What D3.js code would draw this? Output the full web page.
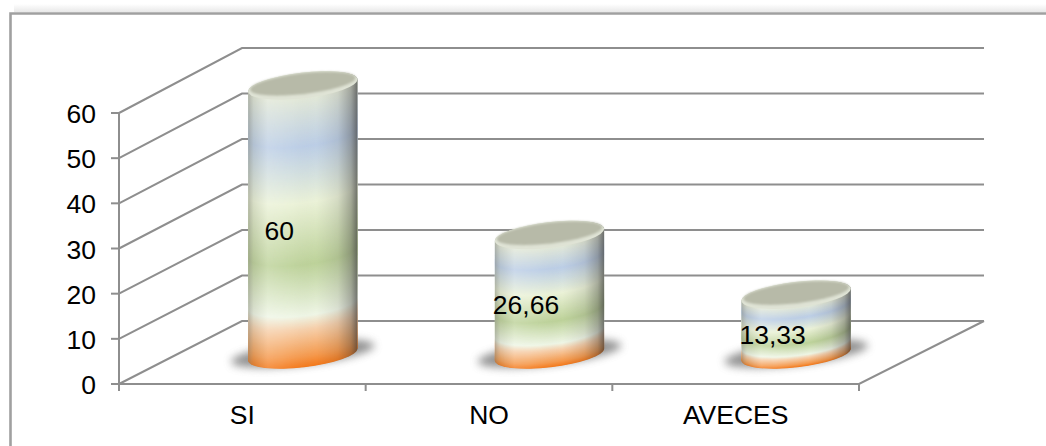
<!DOCTYPE html>
<html>
<head>
<meta charset="utf-8">
<script src="https://cdn.jsdelivr.net/npm/d3@7/dist/d3.min.js"></script>
<style>
html,body{margin:0;padding:0;background:#fff;}
svg{display:block;}
text{font-family:"Liberation Sans",Arial,sans-serif;fill:#000;}
</style>
</head>
<body>
<svg id="chart" width="1046" height="446"></svg>
<script>
// Chart values
const categories = ["SI", "NO", "AVECES"];
const values = [60, 26.66, 13.33];
const valueLabels = ["60", "26,66", "13,33"];
const yTicks = [0, 10, 20, 30, 40, 50, 60];
// Colour bands running up each cylinder, bottom (0) to top (1)
const bandOffsets = [0, 0.04, 0.14, 0.19, 0.38, 0.61, 0.82, 1];
const bandColors = ["#f47a1c", "#f59a4e", "#f6d0ac", "#eff6e6", "#bdd29a", "#ebf2d8", "#bccee6", "#e2e8d8"];

const W = 1046, H = 446;
const svg = d3.select("#chart");
const defs = svg.append("defs");

// Plot box: front wall, back wall and depth offset of the 3D frame
const frontX = d3.scaleBand().domain(categories).range([119, 859]);
const frontY = d3.scaleLinear().domain([0, 60]).range([384, 113]);
const backY = d3.scaleLinear().domain([0, 60]).range([321, 48]);
const depthX = 123, backRight = 984;
const barY = d3.scaleLinear().domain([0, 60]).range([354.5, 85.5]);
const bandColor = d3.scaleLinear().domain(bandOffsets).range(bandColors).interpolate(d3.interpolateRgb);
const GRID = "#8e8e8e";
const FONT = 26.5;

// Outer frame with soft shadow along its top edge
const topGlow = defs.append("linearGradient").attr("id", "topGlow").attr("x1", 0).attr("x2", 0).attr("y1", 0).attr("y2", 1);
topGlow.append("stop").attr("offset", 0).attr("stop-color", "#fff");
topGlow.append("stop").attr("offset", 1).attr("stop-color", "#e8e8e8");
svg.append("rect").attr("x", 14).attr("y", 4).attr("width", W - 14).attr("height", 8).attr("fill", "url(#topGlow)");
svg.append("path").attr("d", `M10.5,${H}V13.5H${W}`).attr("fill", "none").attr("stroke", "#a0a0a0").attr("stroke-width", 2.6);

// Back wall gridlines and side wall lines
const grid = svg.append("g").attr("fill", "none").attr("stroke", GRID).attr("stroke-width", 2);
grid.selectAll("path.wall").data(yTicks).join("path").attr("class", "wall")
  .attr("d", d => d3.line()([[frontX.range()[0], frontY(d)], [frontX.range()[0] + depthX, backY(d)], [backRight, backY(d)]]));

// Floor edge and axes
const x0 = frontX.range()[0], x1 = frontX.range()[1];
grid.append("path").attr("d", d3.line()([[x0, frontY(0)], [x1, frontY(0)], [backRight, backY(0)]]));
grid.append("path").attr("d", d3.line()([[x0, frontY(0)], [x0, frontY(60)]]));
grid.selectAll("path.ytick").data(yTicks).join("path").attr("class", "ytick")
  .attr("d", d => d3.line()([[x0 - 8, frontY(d)], [x0, frontY(d)]]));
const edges = [...categories.map(c => frontX(c)), x1];
grid.selectAll("path.xtick").data(edges).join("path").attr("class", "xtick")
  .attr("d", d => d3.line()([[d, frontY(0)], [d, frontY(0) + 7]]));

// Axis labels
svg.append("g").attr("font-size", FONT).attr("text-anchor", "end")
  .selectAll("text").data(yTicks).join("text")
  .attr("x", x0 - 23).attr("y", d => frontY(d) + 10).text(d => d);
svg.append("g").attr("font-size", FONT).attr("text-anchor", "middle")
  .selectAll("text").data(categories).join("text")
  .attr("x", d => frontX(d) + frontX.bandwidth() / 2).attr("y", 424).text(d => d);

// Blur filters and side shading for the cylinders
const shadowBlur = defs.append("filter").attr("id", "shadowBlur").attr("x", "-30%").attr("y", "-100%").attr("width", "160%").attr("height", "300%");
shadowBlur.append("feGaussianBlur").attr("stdDeviation", 4);
const softBlur = defs.append("filter").attr("id", "softBlur").attr("x", "-10%").attr("y", "-30%").attr("width", "120%").attr("height", "160%");
softBlur.append("feGaussianBlur").attr("stdDeviation", 1.3);

const side = defs.append("linearGradient").attr("id", "sideShade").attr("x1", 0).attr("x2", 1).attr("y1", 0).attr("y2", 0);
[[0, "#7d7e74", 0.5], [0.05, "#8b8c80", 0.2], [0.18, "#fff", 0.18], [0.4, "#fff", 0.05], [0.62, "#777", 0], [0.82, "#555", 0.14], [0.94, "#4a4a48", 0.42], [1, "#3f3f3f", 0.72]]
  .forEach(([o, c, a]) => side.append("stop").attr("offset", o).attr("stop-color", c).attr("stop-opacity", a));

const A = 55, B = 12.8, TILT = -6.6;
const phi = TILT * Math.PI / 180;
// Point on the tilted ellipse at parameter t, relative to its centre
const ellipsePoint = t => [
  A * Math.cos(t) * Math.cos(phi) - B * Math.sin(t) * Math.sin(phi),
  A * Math.cos(t) * Math.sin(phi) + B * Math.sin(t) * Math.cos(phi)
];
// Parameter where the ellipse meets the cylinder's right-hand outline
const tEdge = Math.atan2(-B * Math.sin(phi), A * Math.cos(phi));
const arcParams = (from, to) => d3.range(0, 41).map(i => from + (to - from) * i / 40);

svg.selectAll("g.bar").data(categories.map((c, i) => ({ c, v: values[i], label: valueLabels[i] })))
  .join("g").attr("class", "bar")
  .each(function (d) {
    const g = d3.select(this);
    const cx = frontX(d.c) + frontX.bandwidth() / 2 + 60.5;
    const yBase = barY(0), yTop = barY(d.v);

    // Floor shadow
    g.append("ellipse").attr("rx", A + 17).attr("ry", B - 1.5)
      .attr("transform", `translate(${cx},${yBase - 1}) rotate(${TILT})`)
      .attr("fill", "#666").attr("opacity", 0.72).attr("filter", "url(#shadowBlur)");

    // Body: ellipses stacked from the floor upwards so each band curves round the front
    const n = Math.ceil((yBase - yTop) * 2);
    const steps = d3.range(0, n + 1).map(k => k / n);
    g.append("g").selectAll("ellipse").data(steps).join("ellipse")
      .attr("rx", A).attr("ry", B)
      .attr("transform", t => `translate(${cx},${yBase + (yTop - yBase) * t}) rotate(${TILT})`)
      .attr("fill", t => bandColor(t));

    // Side shading across the visible outline
    const outline = [
      ...arcParams(tEdge + Math.PI, tEdge).map(t => { const p = ellipsePoint(t); return [cx + p[0], yBase + p[1]]; }),
      ...arcParams(tEdge, tEdge - Math.PI).map(t => { const p = ellipsePoint(t); return [cx + p[0], yTop + p[1]]; })
    ];
    g.append("path").attr("d", d3.line()(outline) + "Z").attr("fill", "url(#sideShade)");

    // Cap with a pale rim along its front edge
    g.append("ellipse").attr("rx", A).attr("ry", B)
      .attr("transform", `translate(${cx},${yTop}) rotate(${TILT})`)
      .attr("fill", "#dfe3d5");
    g.append("ellipse").attr("rx", A - 2).attr("ry", B - 2.4)
      .attr("transform", `translate(${cx},${yTop - 1.8}) rotate(${TILT})`)
      .attr("fill", "#b7baa8").attr("filter", "url(#softBlur)");

    // Value label
    g.append("text").attr("font-size", FONT).attr("text-anchor", "middle")
      .attr("x", frontX(d.c) + frontX.bandwidth() / 2 + 37).attr("y", (yBase + yTop) / 2 + 19.5)
      .text(d.label);
  });
</script>
</body>
</html>
